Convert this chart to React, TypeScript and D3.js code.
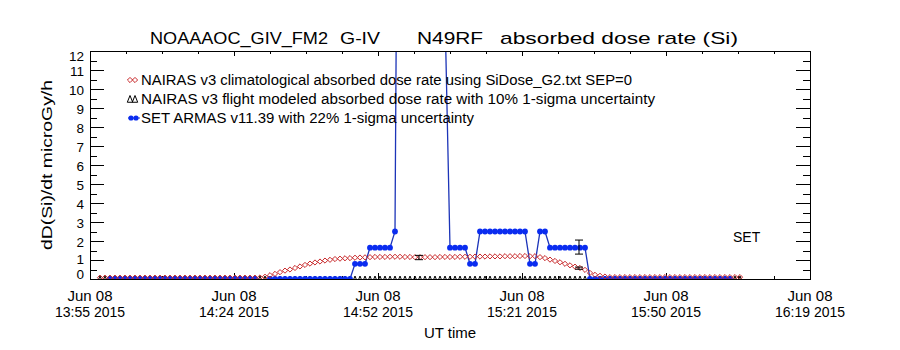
import { useEffect, useRef } from 'react';
import * as d3 from 'd3';

// title pieces (IDL spaces them widely)
const titleParts = ['NOAAAOC_GIV_FM2', 'G-IV', 'N49RF', 'absorbed dose rate (Si)'];

const legendLabels = [
  'NAIRAS v3 climatological absorbed dose rate using SiDose_G2.txt SEP=0',
  'NAIRAS v3 flight modeled absorbed dose rate with 10% 1-sigma uncertainty',
  'SET ARMAS v11.39 with 22% 1-sigma uncertainty',
];

const yLabel = 'dD(Si)/dt microGy/h';
const xLabel = 'UT time';
const instrumentLabel = 'SET';

// x axis: minutes after 13:55 UT
const xTickMinutes = [0, 28.8, 57.6, 86.4, 115.2, 144];
const xTickDates = ['Jun 08', 'Jun 08', 'Jun 08', 'Jun 08', 'Jun 08', 'Jun 08'];
const xTickTimes = ['13:55 2015', '14:24 2015', '14:52 2015', '15:21 2015', '15:50 2015', '16:19 2015'];
const yTicks = [0, 1, 2, 3, 4, 5, 6, 7, 8, 9, 10, 11, 12];

// one sample per minute, minute 2 .. 130
const minutes = d3.range(2, 131);

const climValues = [
  0.07, 0.07, 0.07, 0.07, 0.07, 0.07, 0.07, 0.07, 0.07, 0.07, 0.07, 0.07, 0.07, 0.07, 0.07, 0.07,
  0.07, 0.07, 0.07, 0.07, 0.07, 0.07, 0.07, 0.07, 0.07, 0.07, 0.07, 0.07, 0.07, 0.07, 0.07, 0.07,
  0.08, 0.12, 0.2, 0.27, 0.36, 0.44, 0.5, 0.58, 0.66, 0.74, 0.81, 0.87, 0.92, 0.97, 1.01, 1.05,
  1.07, 1.09, 1.1, 1.12, 1.13, 1.14, 1.15,
  1.16, 1.16, 1.16, 1.17, 1.17, 1.17, 1.16, 1.16, 1.15, 1.15, 1.15, 1.15, 1.15, 1.16, 1.16, 1.16,
  1.16, 1.17, 1.17, 1.17, 1.18, 1.18, 1.18, 1.19, 1.19, 1.19, 1.2, 1.2, 1.2, 1.21, 1.21,
  1.2, 1.2, 1.15, 1.1, 1.02, 0.95, 0.88, 0.8, 0.72, 0.65, 0.58, 0.48, 0.32, 0.22, 0.17, 0.13,
  0.1, 0.1, 0.1, 0.1, 0.1, 0.1, 0.1, 0.1, 0.1, 0.1, 0.1, 0.1, 0.1, 0.1, 0.1, 0.1,
  0.1, 0.1, 0.1, 0.1, 0.1, 0.1, 0.1, 0.1, 0.1, 0.1, 0.1,
];

const modelValues = [
  0, 0, 0, 0, 0, 0, 0, 0, 0, 0, 0, 0, 0, 0, 0, 0, 0, 0, 0, 0,
  0, 0, 0, 0, 0, 0, 0, 0, 0, 0, 0, 0, 0, 0, 0, 0, 0, 0, 0, 0,
  0, 0, 0, 0, 0, 0, 0, 0, 0, 0, 0, 0, 0, 0, 0, 0, 0, 0, 0, 0,
  0, 0, 0, 0, 0, 0, 0, 0, 0, 0, 0, 0, 0, 0, 0, 0, 0, 0, 0, 0,
  0, 0, 0, 0, 0, 0, 0, 0, 0, 0, 0, 0, 0, 0, 0, 0, 0, 0, 0, 0,
  0, 0, 0, 0, 0, 0, 0, 0, 0, 0, 0, 0, 0, 0, 0, 0, 0, 0, 0, 0,
  0, 0, 0, 0, 0, 0, 0, 0, 0,
];

const setValues: (number | null)[] = [
  null, null,
  0, 0, 0, 0, 0, 0, 0, 0, 0, 0, 0, 0, 0, 0, 0, 0, 0, 0, 0, 0, 0, 0, 0, 0, 0, 0, 0, 0, 0, 0,
  null, null,
  0, 0, 0, 0, 0, 0, 0, 0, 0, 0, 0, 0, 0, 0, 0, 0, 0,
  0.8, 0.8, 0.8,
  1.65, 1.65, 1.65, 1.65, 1.65,
  2.5,
  45, 60, 70, 58, 50, 44, 38, 30, 22, 14,
  1.65, 1.65, 1.65, 1.65,
  0.8, 0.8,
  2.5, 2.5, 2.5, 2.5, 2.5, 2.5, 2.5, 2.5, 2.5, 2.5,
  0.8, 0.8,
  2.5, 2.5,
  1.65, 1.65, 1.65, 1.65, 1.65, 1.65, 1.65, 1.65,
  0, 0, 0, 0, 0, 0, 0, 0, 0, 0, 0, 0, 0, 0, 0, 0, 0, 0, 0, 0, 0, 0, 0, 0, 0, 0, 0, 0, 0,
  null, null,
];

// error bars
const modelErrMinutes = [65.8, 97.8];
const modelErrValues = [1.13, 0.57];
const modelErrFrac = 0.1;
const setErrMinutes = [97.8];
const setErrValues = [1.68];
const setErrFrac = 0.22;

const RED = '#c8282a';
const BLUE = '#0a2cf0';
const BLUE_LINE = '#1c34b8';
const FONT = "'Liberation Sans', 'DejaVu Sans', sans-serif";

export default function App() {
  const svgRef = useRef<SVGSVGElement>(null);

  useEffect(() => {
    if (!svgRef.current) return;
    const width = 900;
    const height = 350;
    const margin = { top: 51, right: 90, bottom: 71, left: 90 };
    const x0 = margin.left;
    const x1 = width - margin.right;
    const y0 = height - margin.bottom;
    const y1 = margin.top;

    const svg = d3.select(svgRef.current);
    svg.selectAll('*').remove();
    svg.attr('width', width).attr('height', height);

    const x = d3.scaleLinear().domain([0, 144]).range([x0, x1]);
    const y = d3.scaleLinear().domain([0, 12]).range([y0, y1]);

    svg.append('rect').attr('width', width).attr('height', height).attr('fill', '#fff');

    svg
      .append('defs')
      .append('clipPath')
      .attr('id', 'plotclip')
      .append('rect')
      .attr('x', x0)
      .attr('y', y1)
      .attr('width', x1 - x0)
      .attr('height', y0 - y1);

    // Title
    const titleLayout = [
      { x: 150, w: 178 },
      { x: 340, w: 40 },
      { x: 417, w: 66 },
      { x: 500, w: 238 },
    ];
    titleParts.forEach((t, i) => {
      svg
        .append('text')
        .attr('x', titleLayout[i].x)
        .attr('y', 44)
        .attr('textLength', titleLayout[i].w)
        .attr('lengthAdjust', 'spacingAndGlyphs')
        .style('font-family', FONT)
        .style('font-size', '17px')
        .text(t);
    });

    // ticks
    const minorY = d3.range(0.5, 12, 1);
    const minorX = d3.range(0, 144.01, 7.2).filter((m) => !xTickMinutes.some((t) => Math.abs(t - m) < 0.01));

    const tickGroup = (axis: d3.Axis<d3.NumberValue>, tx: number, ty: number) => {
      const g = svg.append('g').attr('transform', `translate(${tx},${ty})`).call(axis);
      g.select('.domain').remove();
      g.selectAll('line').attr('stroke', '#000').attr('shape-rendering', 'crispEdges');
    };
    tickGroup(d3.axisRight(y).tickValues(yTicks).tickSize(14).tickFormat(() => ''), x0, 0);
    tickGroup(d3.axisRight(y).tickValues(minorY).tickSize(7).tickFormat(() => ''), x0, 0);
    tickGroup(d3.axisLeft(y).tickValues(yTicks).tickSize(14).tickFormat(() => ''), x1, 0);
    tickGroup(d3.axisLeft(y).tickValues(minorY).tickSize(7).tickFormat(() => ''), x1, 0);
    tickGroup(d3.axisTop(x).tickValues(xTickMinutes).tickSize(6).tickFormat(() => ''), 0, y0);
    tickGroup(d3.axisTop(x).tickValues(minorX).tickSize(3).tickFormat(() => ''), 0, y0);
    tickGroup(d3.axisBottom(x).tickValues(xTickMinutes).tickSize(5).tickFormat(() => ''), 0, y1);
    tickGroup(d3.axisBottom(x).tickValues(minorX).tickSize(3).tickFormat(() => ''), 0, y1);

    // y tick labels: IDL pushes the end labels inside the frame
    const labelPos = yTicks.map((v) => y(v) + 1);
    labelPos[0] = y0 - 5;
    labelPos[yTicks.length - 1] = y1 + 5;
    labelPos[1] = Math.min(labelPos[1], labelPos[0] - 14.5);
    labelPos[yTicks.length - 2] = Math.max(labelPos[yTicks.length - 2], labelPos[yTicks.length - 1] + 14.5);
    yTicks.forEach((v, i) => {
      svg
        .append('text')
        .attr('x', 84)
        .attr('y', labelPos[i])
        .attr('text-anchor', 'end')
        .attr('dominant-baseline', 'central')
        .style('font-family', FONT)
        .style('font-size', '13.5px')
        .text(String(v));
    });

    // x tick labels
    xTickMinutes.forEach((m, i) => {
      svg
        .append('text')
        .attr('x', x(m))
        .attr('y', 301)
        .attr('text-anchor', 'middle')
        .style('font-family', FONT)
        .style('font-size', '15px')
        .text(xTickDates[i]);
      svg
        .append('text')
        .attr('x', x(m) - 35)
        .attr('y', 317)
        .attr('textLength', 70)
        .attr('lengthAdjust', 'spacingAndGlyphs')
        .style('font-family', FONT)
        .style('font-size', '15px')
        .text(xTickTimes[i]);
    });

    svg
      .append('text')
      .attr('x', (x0 + x1) / 2)
      .attr('y', 338)
      .attr('text-anchor', 'middle')
      .style('font-family', FONT)
      .style('font-size', '15px')
      .text(xLabel);

    svg
      .append('text')
      .attr('transform', 'translate(52,165) rotate(-90)')
      .attr('x', -85)
      .attr('y', 0)
      .attr('textLength', 170)
      .attr('lengthAdjust', 'spacingAndGlyphs')
      .style('font-family', FONT)
      .style('font-size', '15px')
      .text(yLabel);

    // data
    const plot = svg.append('g').attr('clip-path', 'url(#plotclip)');

    const model = minutes.map((m, i) => ({ m, v: modelValues[i] }));
    const clim = minutes.map((m, i) => ({ m, v: climValues[i] }));
    const setData = minutes.map((m, i) => ({ m, v: setValues[i] }));

    const tri = (cx: number, cy: number, s: number) =>
      `M${cx},${cy - s}L${cx + s * 0.6},${cy + s * 0.5}L${cx - s * 0.6},${cy + s * 0.5}Z`;
    const dia = (cx: number, cy: number) => `M${cx},${cy - 2.6}L${cx + 2.6},${cy}L${cx},${cy + 2.6}L${cx - 2.6},${cy}Z`;

    plot
      .selectAll('.tri')
      .data(model)
      .enter()
      .append('path')
      .attr('d', (d) => tri(x(d.m), y(d.v), 3))
      .attr('fill', 'none')
      .attr('stroke', '#000')
      .attr('stroke-width', 1);

    const line = d3
      .line<{ m: number; v: number | null }>()
      .defined((d) => d.v != null)
      .x((d) => x(d.m))
      .y((d) => y(d.v as number));

    plot
      .append('path')
      .datum(setData)
      .attr('d', line)
      .attr('fill', 'none')
      .attr('stroke', BLUE_LINE)
      .attr('stroke-width', 1.3);

    plot
      .selectAll('.dot')
      .data(setData.filter((d) => d.v != null))
      .enter()
      .append('circle')
      .attr('cx', (d) => x(d.m))
      .attr('cy', (d) => y(d.v as number))
      .attr('r', 2.9)
      .attr('fill', BLUE);

    plot
      .selectAll('.dia')
      .data(clim)
      .enter()
      .append('path')
      .attr('d', (d) => dia(x(d.m), y(d.v)))
      .attr('fill', 'none')
      .attr('stroke', RED)
      .attr('stroke-width', 1);

    const errBar = (m: number, v: number, f: number) => {
      const cx = x(m);
      const lo = y(v * (1 - f));
      const hi = y(v * (1 + f));
      const p = d3.path();
      p.moveTo(cx, lo);
      p.lineTo(cx, hi);
      p.moveTo(cx - 4, lo);
      p.lineTo(cx + 4, lo);
      p.moveTo(cx - 4, hi);
      p.lineTo(cx + 4, hi);
      plot.append('path').attr('d', p.toString()).attr('stroke', '#000').attr('stroke-width', 1).attr('fill', 'none');
    };
    modelErrMinutes.forEach((m, i) => errBar(m, modelErrValues[i], modelErrFrac));
    setErrMinutes.forEach((m, i) => errBar(m, setErrValues[i], setErrFrac));

    // frame
    svg
      .append('rect')
      .attr('x', x0)
      .attr('y', y1)
      .attr('width', x1 - x0)
      .attr('height', y0 - y1)
      .attr('fill', 'none')
      .attr('stroke', '#000')
      .attr('shape-rendering', 'crispEdges');

    // legend
    const legendY = [80, 99, 118];
    const legendW = [491, 514, 333];
    legendLabels.forEach((t, i) => {
      svg
        .append('text')
        .attr('x', 141)
        .attr('y', legendY[i] + 5)
        .attr('textLength', legendW[i])
        .attr('lengthAdjust', 'spacingAndGlyphs')
        .style('font-family', FONT)
        .style('font-size', '14px')
        .text(t);
    });
    [130, 135].forEach((lx) => {
      svg.append('path').attr('d', dia(lx, legendY[0])).attr('fill', 'none').attr('stroke', RED);
      svg.append('path').attr('d', tri(lx, legendY[1] + 1, 4.5)).attr('fill', 'none').attr('stroke', '#000');
    });
    svg
      .append('line')
      .attr('x1', 128)
      .attr('x2', 140)
      .attr('y1', legendY[2])
      .attr('y2', legendY[2])
      .attr('stroke', BLUE_LINE);
    [131, 136].forEach((lx) => {
      svg.append('circle').attr('cx', lx).attr('cy', legendY[2]).attr('r', 2.6).attr('fill', BLUE);
    });

    svg
      .append('text')
      .attr('x', 733)
      .attr('y', 242)
      .style('font-family', FONT)
      .style('font-size', '14px')
      .text(instrumentLabel);
  }, []);

  return (
    <div style={{ position: 'absolute', left: 0, top: 0 }}>
      <svg ref={svgRef} style={{ display: 'block' }} />
    </div>
  );
}
